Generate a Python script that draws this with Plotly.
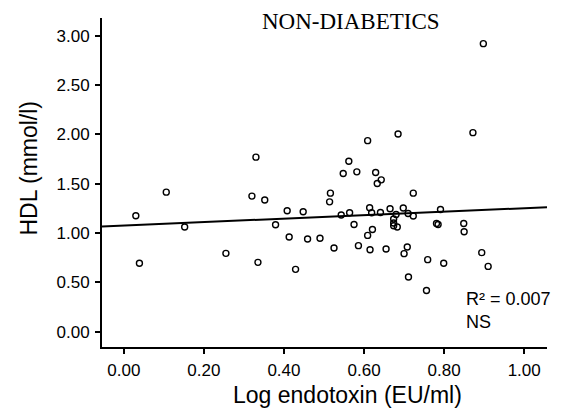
import numpy as np
import plotly.graph_objects as go

# ---- data ----
log_endotoxin = [0.030, 0.106, 0.152, 0.330, 0.320, 0.352, 0.379, 0.408, 0.448,
                 0.609, 0.685, 0.872, 0.562, 0.548, 0.582, 0.629, 0.643, 0.633,
                 0.516, 0.514, 0.723, 0.543, 0.564, 0.614, 0.619, 0.641, 0.665,
                 0.698, 0.680, 0.710, 0.723, 0.791, 0.575, 0.621, 0.674, 0.674,
                 0.674, 0.683, 0.781, 0.785, 0.849, 0.850, 0.609, 0.490, 0.525,
                 0.586, 0.615, 0.655, 0.708, 0.700, 0.759, 0.799, 0.894, 0.910,
                 0.711, 0.756, 0.039, 0.255, 0.335, 0.413, 0.429, 0.459, 0.898]
hdl = [1.176, 1.415, 1.062, 1.770, 1.375, 1.335, 1.085, 1.226, 1.216,
       1.937, 2.005, 2.018, 1.729, 1.604, 1.621, 1.614, 1.540, 1.503,
       1.405, 1.317, 1.405, 1.183, 1.206, 1.257, 1.206, 1.209, 1.247,
       1.254, 1.189, 1.199, 1.173, 1.240, 1.088, 1.036, 1.143, 1.102,
       1.075, 1.062, 1.098, 1.088, 1.098, 1.014, 0.977, 0.948, 0.849,
       0.873, 0.832, 0.839, 0.859, 0.792, 0.731, 0.694, 0.802, 0.663,
       0.556, 0.418, 0.694, 0.795, 0.704, 0.961, 0.633, 0.940, 2.920]

fit_intercept = 1.077
fit_slope = 0.175
x_range = [-0.0545, 1.057]
y_range = [-0.154, 3.18]
x_ticks = [0.0, 0.2, 0.4, 0.6, 0.8, 1.0]
y_ticks = [0.0, 0.5, 1.0, 1.5, 2.0, 2.5, 3.0]
title_text = "NON-DIABETICS"
x_title = "Log endotoxin (EU/ml)"
y_title = "HDL (mmol/l)"
r2_text = "R² = 0.007"
sig_text = "NS"

fit_x = np.array(x_range)
fit_y = fit_intercept + fit_slope * fit_x

SANS = "Liberation Sans, Arial, Helvetica, sans-serif"
SERIF = "Liberation Serif, Times New Roman, serif"

# plot area in pixels (for placing free text)
L, R, T, B = 101.7, 546.7, 18.0, 347.5
W, H = R - L, B - T


def px(xp):
    return (xp - L) / W


def py(yp):
    return (B - yp) / H


fig = go.Figure()
fig.add_trace(go.Scatter(
    x=fit_x, y=fit_y, mode="lines",
    line=dict(color="black", width=2), showlegend=False, hoverinfo="skip"))
fig.add_trace(go.Scatter(
    x=log_endotoxin, y=hdl, mode="markers",
    marker=dict(symbol="circle-open", size=6, color="black",
                line=dict(color="black", width=1.4)),
    showlegend=False))

axis_common = dict(
    showline=True, linecolor="black", linewidth=2,
    ticks="outside", ticklen=5, tickwidth=1.5, tickcolor="black",
    showgrid=False, zeroline=False, mirror=False,
    tickfont=dict(family=SANS, size=17, color="black"),
    tickformat=".2f",
)

fig.update_layout(
    width=563, height=411,
    margin=dict(l=L, r=563 - R, t=T, b=411 - B, pad=0),
    paper_bgcolor="white", plot_bgcolor="white",
    xaxis=dict(range=x_range, tickvals=x_ticks, ticklabelstandoff=2, **axis_common),
    yaxis=dict(range=y_range, tickvals=y_ticks, ticklabelstandoff=2, **axis_common),
    annotations=[
        dict(text=title_text, x=px(350.6), y=py(22), xref="paper", yref="paper",
             showarrow=False, xanchor="center", yanchor="middle",
             font=dict(family=SERIF, size=23, color="black")),
        dict(text=x_title, x=px(347), y=py(396), xref="paper", yref="paper",
             showarrow=False, xanchor="center", yanchor="middle",
             font=dict(family=SANS, size=23, color="black")),
        dict(text=y_title, x=px(28.5), y=py(168), xref="paper", yref="paper",
             showarrow=False, xanchor="center", yanchor="middle", textangle=-90,
             font=dict(family=SANS, size=23, color="black")),
        dict(text=r2_text, x=px(464), y=py(299), xref="paper", yref="paper",
             showarrow=False, xanchor="left", yanchor="middle",
             font=dict(family=SANS, size=18, color="black")),
        dict(text=sig_text, x=px(464), y=py(322), xref="paper", yref="paper",
             showarrow=False, xanchor="left", yanchor="middle",
             font=dict(family=SANS, size=18, color="black")),
    ],
)

fig.write_html(
    "out.html",
    config={"displayModeBar": False},
    post_script=("document.body.style.margin='0';"
                 "document.body.style.padding='0';"
                 "document.documentElement.style.overflow='hidden';"),
)
